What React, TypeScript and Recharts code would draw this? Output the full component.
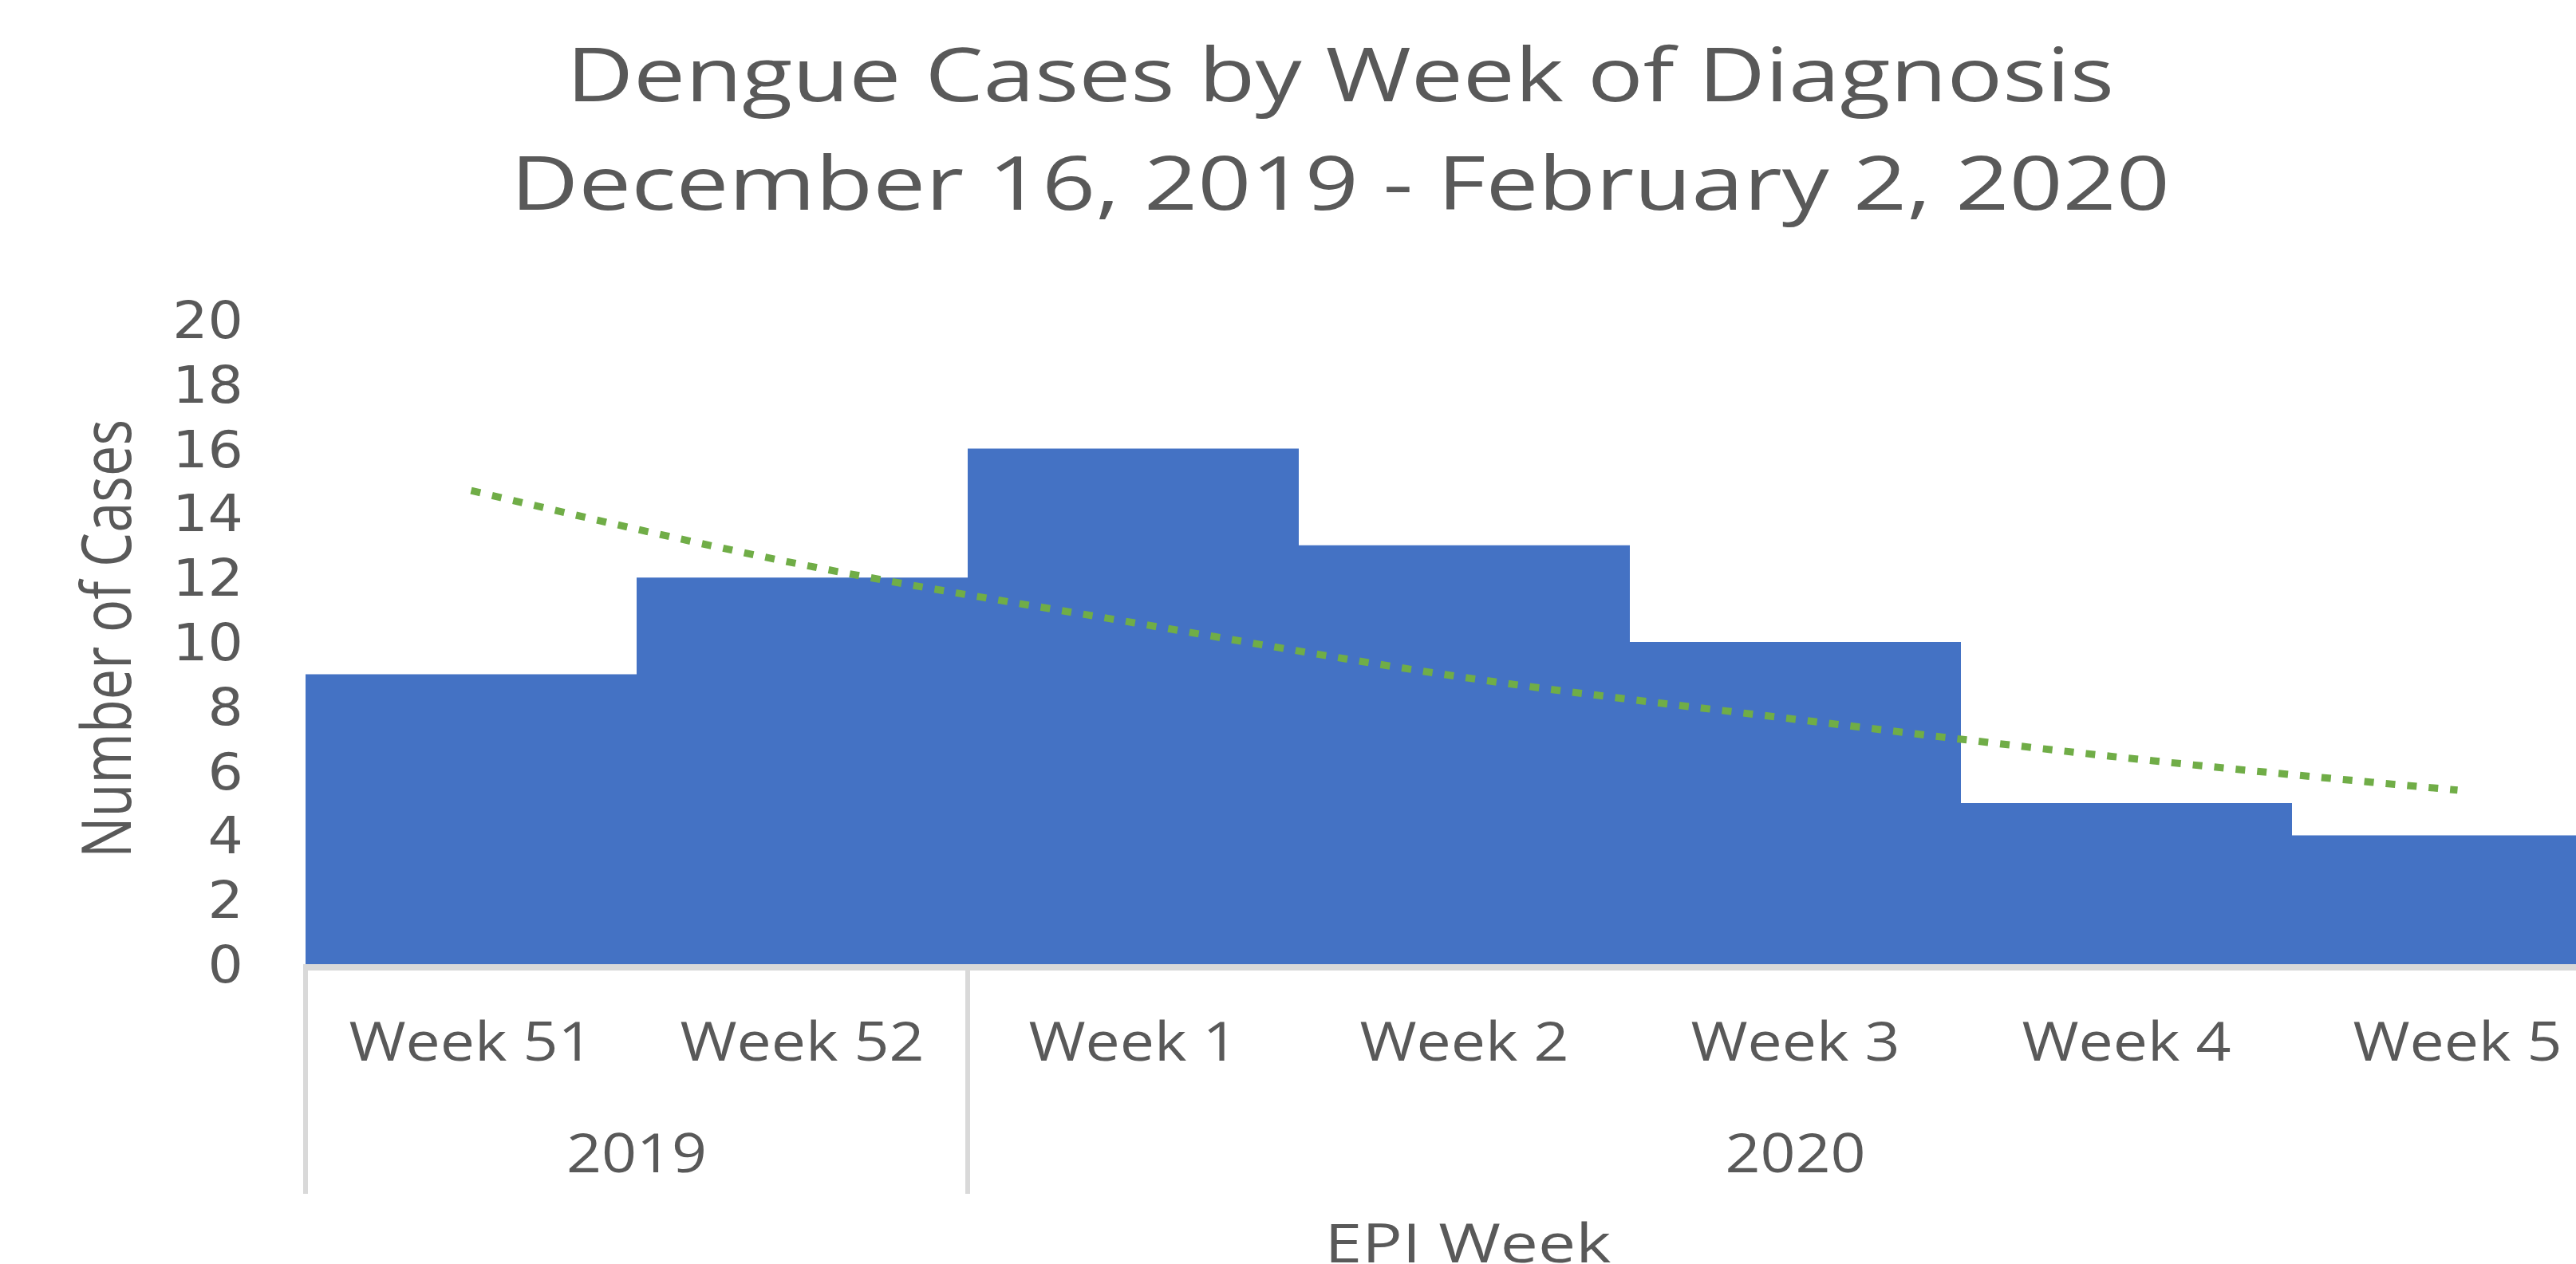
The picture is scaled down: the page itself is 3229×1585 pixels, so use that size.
import React from "react"
import { ComposedChart, Bar, Line, XAxis, YAxis } from "recharts"

// ── Data ──────────────────────────────────────────────────────────────────────
const WEEKS = ["Week 51", "Week 52", "Week 1", "Week 2", "Week 3", "Week 4", "Week 5"]
const YEARS = ["2019", "2019", "2020", "2020", "2020", "2020", "2020"]
const CASES = [9, 12, 16, 13, 10, 5, 4]
// exponential trendline, read at each week's centre
const TREND = [14.7, 12.4, 10.6, 8.9, 7.6, 6.4, 5.4]
const Y_TICKS = [0, 2, 4, 6, 8, 10, 12, 14, 16, 18, 20]

const TITLE = "Dengue Cases by Week of Diagnosis"
const SUBTITLE = "December 16, 2019 - February 2, 2020"
const Y_LABEL = "Number of Cases"
const X_LABEL = "EPI Week"

// ── Colours ──────────────────────────────────────────────────────────────────
const TEXT = "#595959"
const BAR = "#4472C4"
const TREND_COLOR = "#70AD47"
const AXIS = "#D9D9D9"
const FONT = "'Open Sans', sans-serif"

const data = WEEKS.map((week, i) => ({
  week,
  year: YEARS[i],
  cases: CASES[i],
  trend: TREND[i],
}))

// two-level category axis: week label + year group with separators
function WeekTick(props: any) {
  const { x, y, payload, width, visibleTicksCount } = props
  const i = props.index ?? payload.index
  const band = payload.offset ? payload.offset * 2 : width / visibleTicksCount
  const left = x - band / 2
  const isFirst = i === 0 || YEARS[i] !== YEARS[i - 1]
  const isLast = i === WEEKS.length - 1
  const groupSize = YEARS.filter((yr) => yr === YEARS[i]).length
  return (
    <g>
      <line x1={left - 3} x2={left + band + 3} y1={y + 4} y2={y + 4} stroke={AXIS} strokeWidth={8} />
      {isFirst && <line x1={left} x2={left} y1={y} y2={y + 288} stroke={AXIS} strokeWidth={6} />}
      {isLast && (
        <line x1={left + band} x2={left + band} y1={y} y2={y + 288} stroke={AXIS} strokeWidth={6} />
      )}
      <text
        transform={`translate(${x} ${y + 121}) scale(1.15 1)`}
        textAnchor="middle"
        fontSize={67}
        fontFamily={FONT}
        fill={TEXT}
      >
        {payload.value}
      </text>
      {isFirst && (
        <text
          transform={`translate(${left + (groupSize * band) / 2} ${y + 261}) scale(1.15 1)`}
          textAnchor="middle"
          fontSize={67}
          fontFamily={FONT}
          fill={TEXT}
        >
          {YEARS[i]}
        </text>
      )}
    </g>
  )
}

function CountTick({ x, y, payload }: any) {
  return (
    <text
      transform={`translate(${x - 78} ${y + 23}) scale(1.09 1)`}
      textAnchor="end"
      fontSize={64}
      fontFamily="'DejaVu Sans', sans-serif"
      fill={TEXT}
    >
      {payload.value}
    </text>
  )
}

export default function App() {
  return (
    <div
      style={{
        position: "absolute",
        left: 0,
        top: 0,
        width: 3229,
        height: 1585,
        overflow: "hidden",
        background: "#fff",
      }}
    >
      <ComposedChart
        width={3360}
        height={1600}
        data={data}
        margin={{ top: 401, right: 72, left: 0, bottom: 101 }}
        barCategoryGap={0}
        barGap={0}
      >
        <XAxis
          dataKey="week"
          axisLine={false}
          tickLine={false}
          tickSize={0}
          tickMargin={0}
          height={290}
          interval={0}
          tick={(p: any) => <WeekTick {...p} />}
        />
        <YAxis
          domain={[0, 20]}
          ticks={Y_TICKS}
          width={383}
          axisLine={false}
          tickLine={false}
          tickSize={0}
          tickMargin={0}
          interval={0}
          tick={(p: any) => <CountTick {...p} />}
        />
        <Bar dataKey="cases" fill={BAR} isAnimationActive={false} />
        <Line
          dataKey="trend"
          type="monotone"
          stroke={TREND_COLOR}
          strokeWidth={9}
          strokeDasharray="12 15"
          dot={false}
          activeDot={false}
          isAnimationActive={false}
        />
      </ComposedChart>

      {/* titles */}
      <svg
        width={3229}
        height={1585}
        style={{ position: "absolute", left: 0, top: 0, pointerEvents: "none" }}
      >
        <text
          x={1680}
          y={127}
          textAnchor="middle"
          fontSize={94}
          fontFamily={FONT}
          fill={TEXT}
          textLength={1940}
          lengthAdjust="spacingAndGlyphs"
        >
          {TITLE}
        </text>
        <text
          x={1680}
          y={263}
          textAnchor="middle"
          fontSize={94}
          fontFamily={FONT}
          fill={TEXT}
          textLength={2080}
          lengthAdjust="spacingAndGlyphs"
        >
          {SUBTITLE}
        </text>
        <text
          transform="translate(164 801) scale(1.27 1) rotate(-90)"
          textAnchor="middle"
          fontSize={68}
          fontFamily={FONT}
          fill={TEXT}
          textLength={550}
          lengthAdjust="spacingAndGlyphs"
        >
          {Y_LABEL}
        </text>
        <text
          x={1840}
          y={1583}
          textAnchor="middle"
          fontSize={68}
          fontFamily={FONT}
          fill={TEXT}
          textLength={359}
          lengthAdjust="spacingAndGlyphs"
        >
          {X_LABEL}
        </text>
      </svg>
    </div>
  )
}
